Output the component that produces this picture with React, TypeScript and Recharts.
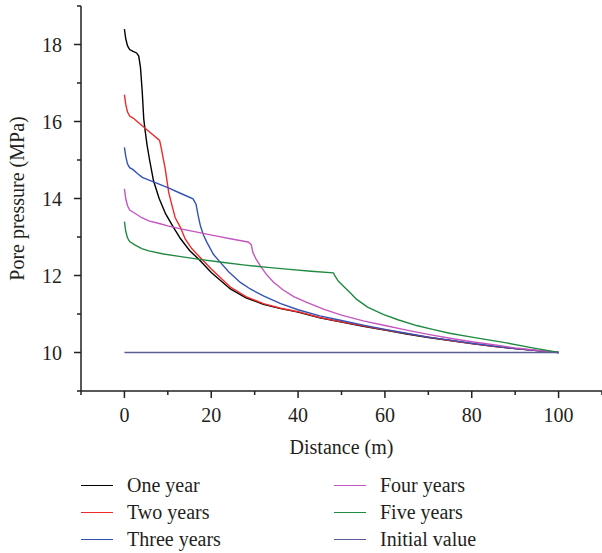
import { LineChart, Line, XAxis, YAxis, Legend } from "recharts";

const FONT = '"Liberation Serif", "Times New Roman", serif';
const INK = "#231f20";

// axis ticks (labels only on the majors)
const xTicks = [-10, 0, 10, 20, 30, 40, 50, 60, 70, 80, 90, 100, 110];
const yTicks = [9, 10, 11, 12, 13, 14, 15, 16, 17, 18, 19];

// distance (m) / pore pressure (MPa)
const oneYearX = [0, 0.3, 0.7, 1.2, 2, 2.8, 3.3, 3.7, 4.1, 4.45, 4.7, 5.2, 5.8, 6.7, 8, 9.5, 11.3, 12.9, 15, 17.3, 20, 24.4, 28, 32, 36, 40, 45, 50, 55, 60, 65, 70, 75, 80, 85, 90, 95, 100];
const oneYearP = [18.4, 18.15, 17.97, 17.87, 17.82, 17.78, 17.7, 17.4, 16.78, 16.07, 15.83, 15.4, 15.0, 14.46, 14.0, 13.6, 13.25, 12.96, 12.65, 12.4, 12.08, 11.65, 11.42, 11.25, 11.14, 11.05, 10.9, 10.79, 10.68, 10.58, 10.48, 10.39, 10.31, 10.23, 10.16, 10.1, 10.05, 10.0];

const twoYearsX = [0, 0.3, 0.7, 1.2, 2, 4.7, 8.1, 8.5, 9.4, 10.2, 11, 11.7, 12.9, 14, 15.5, 17.5, 20, 24.4, 28, 32, 36, 40, 45, 50, 55, 60, 65, 70, 75, 80, 85, 90, 95, 100];
const twoYearsP = [16.7, 16.45, 16.25, 16.14, 16.09, 15.83, 15.51, 15.3, 14.77, 14.16, 13.8, 13.5, 13.25, 12.95, 12.7, 12.46, 12.17, 11.7, 11.45, 11.27, 11.15, 11.06, 10.91, 10.8, 10.69, 10.59, 10.49, 10.4, 10.31, 10.23, 10.16, 10.1, 10.05, 10.0];

const threeYearsX = [0, 0.3, 0.7, 1.2, 2, 3, 4.1, 6.7, 10, 13, 15.8, 16.5, 17, 17.5, 18.2, 19, 20.5, 22.1, 24, 26.7, 29, 32, 36, 40, 45, 50, 55, 60, 65, 70, 75, 80, 85, 90, 95, 100];
const threeYearsP = [15.33, 15.1, 14.9, 14.8, 14.75, 14.65, 14.55, 14.43, 14.28, 14.13, 13.99, 13.85, 13.55, 13.29, 13.05, 12.86, 12.55, 12.34, 12.1, 11.82, 11.65, 11.47, 11.27, 11.11, 10.95, 10.83, 10.71, 10.6, 10.5, 10.4, 10.32, 10.24, 10.17, 10.1, 10.05, 10.0];

const fourYearsX = [0, 0.3, 0.7, 1.2, 2.5, 4, 5.6, 8, 10, 13, 17, 21, 25, 28.5, 29.2, 29.6, 30.3, 31.3, 32.7, 34.3, 36.5, 39, 42, 46, 50, 55, 60, 65, 70, 75, 80, 85, 90, 95, 100];
const fourYearsP = [14.25, 14.0, 13.82, 13.7, 13.61, 13.5, 13.42, 13.35, 13.29, 13.21, 13.12, 13.03, 12.94, 12.87, 12.8, 12.6, 12.43, 12.25, 12.03, 11.83, 11.63, 11.45, 11.3, 11.12, 10.97, 10.82, 10.7, 10.58, 10.47, 10.37, 10.28, 10.2, 10.12, 10.06, 10.0];

const fiveYearsX = [0, 0.3, 0.7, 1.2, 2.5, 4, 5.6, 9, 13, 17.3, 22, 27.8, 33, 38, 43, 48.1, 48.6, 49.3, 50.4, 52, 53.5, 56, 59.6, 63, 67.3, 71, 74.9, 80, 88, 94, 100];
const fiveYearsP = [13.4, 13.15, 12.98, 12.88, 12.79, 12.7, 12.64, 12.56, 12.49, 12.42, 12.35, 12.27, 12.21, 12.16, 12.11, 12.07, 11.97, 11.85, 11.73, 11.55, 11.38, 11.18, 10.99, 10.85, 10.7, 10.6, 10.5, 10.4, 10.25, 10.12, 10.0];

const initialX = [0, 100];
const initialP = [10, 10];

const series = [
  { name: "One year", color: "#000000", x: oneYearX, p: oneYearP },
  { name: "Two years", color: "#ee2a2a", x: twoYearsX, p: twoYearsP },
  { name: "Three years", color: "#3352b4", x: threeYearsX, p: threeYearsP },
  { name: "Four years", color: "#c456c0", x: fourYearsX, p: fourYearsP },
  { name: "Five years", color: "#1f8a40", x: fiveYearsX, p: fiveYearsP },
  { name: "Initial value", color: "#5b5b95", x: initialX, p: initialP },
];

const XTick = (props: any) => {
  const { x, y, payload } = props;
  const v = payload.value;
  const major = v % 20 === 0;
  return (
    <g>
      <line x1={x} x2={x} y1={y} y2={y + (major ? 7 : 4)} stroke={INK} strokeWidth={1.5} />
      {major && (
        <text x={x} y={y + 24} textAnchor="middle" dominantBaseline="central" fill={INK} style={{ fontFamily: FONT }} fontSize={20}>
          {v}
        </text>
      )}
    </g>
  );
};

const YTick = (props: any) => {
  const { x, y, payload } = props;
  const v = payload.value;
  const major = v % 2 === 0;
  return (
    <g>
      <line x1={x} x2={x - (major ? 7 : 4)} y1={y} y2={y} stroke={INK} strokeWidth={1.5} />
      {major && (
        <text x={x - 19} y={y} textAnchor="end" dominantBaseline="central" fill={INK} style={{ fontFamily: FONT }} fontSize={20}>
          {v}
        </text>
      )}
    </g>
  );
};

function LegendBox() {
  return (
    <div
      style={{
        display: "grid",
        gridTemplateRows: "repeat(3, 27px)",
        gridTemplateColumns: "253px 220px",
        gridAutoFlow: "column",
        paddingLeft: 81,
        paddingTop: 9,
        fontFamily: FONT,
        fontSize: 20,
        color: INK,
      }}
    >
      {series.map((s) => (
        <div key={s.name} style={{ display: "flex", alignItems: "center" }}>
          <span style={{ width: 32, height: 0, borderTop: `1.5px solid ${s.color}`, marginRight: 14 }} />
          <span>{s.name}</span>
        </div>
      ))}
    </div>
  );
}

export default function App() {
  return (
    <div style={{ position: "absolute", left: 0, top: 0, width: 602, height: 553, background: "#fff" }}>
      <LineChart width={602} height={553} margin={{ top: 6, right: 0, left: 0, bottom: 0 }}>
        <XAxis
          type="number"
          dataKey="x"
          domain={[-10, 110]}
          ticks={xTicks}
          interval={0}
          height={72}
          tickSize={0}
          tickMargin={0}
          tickLine={false}
          tick={<XTick />}
          axisLine={{ stroke: INK, strokeWidth: 1.5 }}
          label={{
            content: (p: any) => (
              <text
                x={p.viewBox.x + p.viewBox.width / 2}
                y={p.viewBox.y + 56}
                textAnchor="middle"
                dominantBaseline="central"
                fill={INK}
                style={{ fontFamily: FONT }}
                fontSize={20}
              >
                Distance (m)
              </text>
            ),
          }}
        />
        <YAxis
          type="number"
          domain={[9, 19]}
          ticks={yTicks}
          interval={0}
          width={81}
          tickSize={0}
          tickMargin={0}
          tickLine={false}
          tick={<YTick />}
          axisLine={{ stroke: INK, strokeWidth: 1.5 }}
          label={{
            content: (p: any) => {
              const cy = p.viewBox.y + p.viewBox.height / 2;
              return (
                <text
                  x={17}
                  y={cy}
                  transform={`rotate(-90, 17, ${cy})`}
                  textAnchor="middle"
                  dominantBaseline="central"
                  fill={INK}
                  style={{ fontFamily: FONT }}
                  fontSize={20}
                >
                  Pore pressure (MPa)
                </text>
              );
            },
          }}
        />
        <Legend verticalAlign="bottom" height={90} content={<LegendBox />} />
        {series.map((s) => (
          <Line
            key={s.name}
            name={s.name}
            data={s.x.map((x, i) => ({ x, p: s.p[i] }))}
            dataKey="p"
            type="linear"
            stroke={s.color}
            strokeWidth={1.4}
            dot={false}
            activeDot={false}
            isAnimationActive={false}
          />
        ))}
      </LineChart>
    </div>
  );
}
